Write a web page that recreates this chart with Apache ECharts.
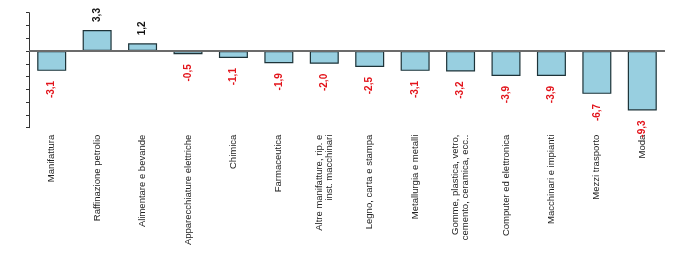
<!DOCTYPE html>
<html>
<head>
<meta charset="utf-8">
<script src="https://cdn.jsdelivr.net/npm/echarts@6/dist/echarts.min.js"></script>
<style>
html,body{margin:0;padding:0;background:#fff;}
#c{width:700px;height:253px;}
</style>
</head>
<body>
<div id="c"></div>
<script>
const categories = [
  "Manifattura",
  "Raffinazione petrolio",
  "Alimentare e bevande",
  "Apparecchiature elettriche",
  "Chimica",
  "Farmaceutica",
  "Altre manifatture, rip. e\ninst. macchinari",
  "Legno, carta e stampa",
  "Metallurgia e metalli",
  "Gomme, plastica, vetro,\ncemento, ceramica, ecc..",
  "Computer ed elettronica",
  "Macchinari e impianti",
  "Mezzi trasporto",
  "Moda"
];
const values = [-3.1, 3.3, 1.2, -0.5, -1.1, -1.9, -2.0, -2.5, -3.1, -3.2, -3.9, -3.9, -6.7, -9.3];
const yMin = -12, yMax = 6, yInterval = 2;

const fmt = v => v.toFixed(1).replace('.', ',');
const seriesData = values.map(v => ({
  value: v,
  label: v >= 0
    ? { position: 'top', align: 'left', verticalAlign: 'middle', color: '#111', distance: 8 }
    : { position: 'bottom', align: 'right', verticalAlign: 'middle', color: '#e3141b', distance: 10 }
}));

const chart = echarts.init(document.getElementById('c'), null, {renderer: 'canvas'});
chart.setOption({
  animation: false,
  backgroundColor: '#fff',
  grid: { left: 29, right: 35, top: 12.7, bottom: 125.3, containLabel: false, outerBoundsMode: 'none' },
  xAxis: {
    type: 'category',
    data: categories,
    position: 'bottom',
    axisLine: { show: false, onZero: false },
    axisTick: { show: false },
    axisLabel: {
      rotate: 90, interval: 0, margin: 7,
      fontFamily: '"Liberation Sans", Arial, sans-serif',
      fontSize: 9.5, color: '#222', lineHeight: 10.5
    },
    splitLine: { show: false }
  },
  yAxis: {
    type: 'value',
    min: yMin, max: yMax, interval: yInterval,
    axisLine: { show: true, lineStyle: { color: '#333', width: 1 } },
    axisTick: { show: true, inside: false, length: 3, lineStyle: { color: '#333' } },
    axisLabel: { show: false },
    splitLine: { show: false }
  },
  series: [{
    type: 'bar',
    data: seriesData,
    barWidth: 29,
    itemStyle: { color: '#98cfe0', borderColor: '#1d3338', borderWidth: 1.2 },
    label: {
      show: true, rotate: 90,
      fontFamily: '"Liberation Sans", Arial, sans-serif',
      fontSize: 10, fontWeight: 'bold',
      formatter: p => fmt(p.value)
    },
    markLine: {
      silent: true, symbol: 'none', animation: false,
      label: { show: false },
      lineStyle: { color: '#6b6b6b', width: 2, type: 'solid' },
      data: [{ yAxis: 0 }]
    }
  }]
});
</script>
</body>
</html>
